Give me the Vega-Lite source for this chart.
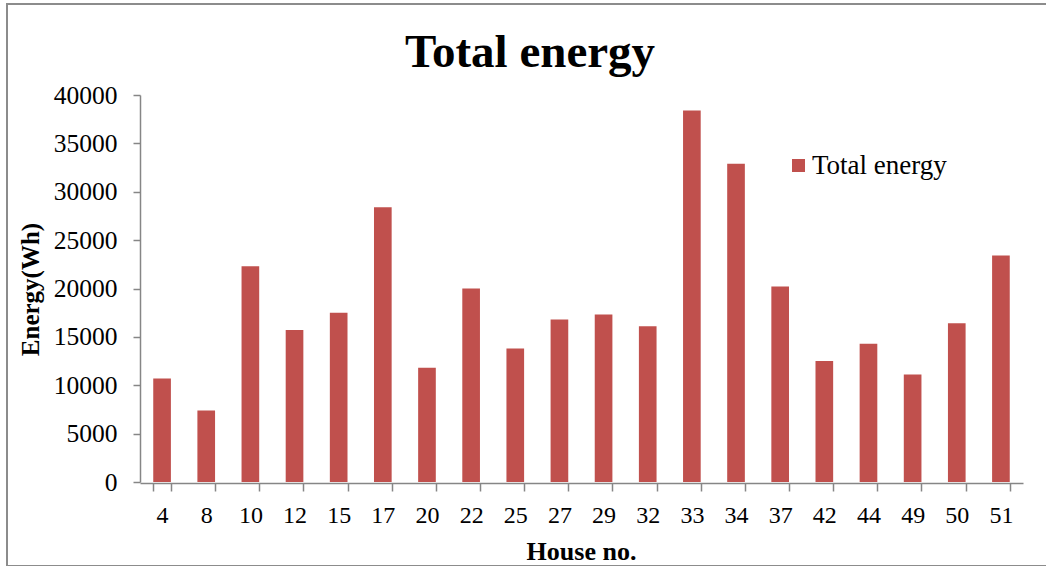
{
  "$schema": "https://vega.github.io/schema/vega-lite/v6.json",
  "autosize": "none",
  "width": 1046,
  "height": 562,
  "padding": {"left": 7, "top": 4, "right": 0, "bottom": 0},
  "background": "white",
  "title": {
    "text": "Total energy",
    "font": "Liberation Serif",
    "fontSize": 47,
    "fontWeight": "bold",
    "color": "black",
    "anchor": "middle",
    "frame": "group",
    "baseline": "alphabetic",
    "offset": -64,
    "dy": 46
  },
  "data": {
    "values": [
      {"house": "4", "energy": 10700},
      {"house": "8", "energy": 7400},
      {"house": "10", "energy": 22300},
      {"house": "12", "energy": 15700},
      {"house": "15", "energy": 17500},
      {"house": "17", "energy": 28400},
      {"house": "20", "energy": 11800},
      {"house": "22", "energy": 20000},
      {"house": "25", "energy": 13800},
      {"house": "27", "energy": 16800},
      {"house": "29", "energy": 17300},
      {"house": "32", "energy": 16100},
      {"house": "33", "energy": 38400},
      {"house": "34", "energy": 32900},
      {"house": "37", "energy": 20200},
      {"house": "42", "energy": 12500},
      {"house": "44", "energy": 14300},
      {"house": "49", "energy": 11100},
      {"house": "50", "energy": 16400},
      {"house": "51", "energy": 23400}
    ]
  },
  "mark": {"type": "bar"},
  "encoding": {
    "x": {
      "field": "house",
      "type": "ordinal",
      "sort": null,
      "scale": {"range": [133, 1016], "paddingInner": 0.6, "paddingOuter": 0.3},
      "axis": {
        "title": "House no.",
        "offset": -83,
        "labelAngle": 0,
        "tickBand": "extent",
        "tickSize": 8,
        "labelBaseline": "alphabetic",
        "labelPadding": 31,
        "titleX": 574,
        "titleY": 76,
        "titleBaseline": "alphabetic",
        "titleAnchor": "middle",
        "titleFontSize": 26
      }
    },
    "y": {
      "field": "energy",
      "type": "quantitative",
      "scale": {"domain": [0, 40000], "nice": false, "range": [478, 91]},
      "axis": {
        "title": "Energy(Wh)",
        "offset": -133,
        "values": [0, 5000, 10000, 15000, 20000, 25000, 30000, 35000, 40000],
        "format": "d",
        "tickSize": 7,
        "labelPadding": 16,
        "labelFontSize": 25.5,
        "grid": false,
        "titleX": -102,
        "titleY": 285,
        "titleBaseline": "alphabetic",
        "titleAngle": -90,
        "titleAnchor": "middle"
      }
    },
    "color": {
      "datum": "Total energy",
      "scale": {"range": ["#C0504D"]},
      "legend": {
        "orient": "none",
        "legendX": 778,
        "legendY": 148,
        "title": null,
        "symbolType": "square",
        "symbolSize": 169,
        "symbolStrokeWidth": 0,
        "labelFont": "Liberation Serif",
        "labelFontSize": 27,
        "labelColor": "black",
        "labelOffset": 0,
        "padding": 0
      }
    }
  },
  "config": {
    "view": {"stroke": "#8c8c8c", "strokeWidth": 2},
    "axis": {
      "domainColor": "#868686",
      "domainWidth": 1.5,
      "tickColor": "#868686",
      "tickWidth": 1.5,
      "labelFont": "Liberation Serif",
      "labelFontSize": 24,
      "labelColor": "black",
      "titleFont": "Liberation Serif",
      "titleFontSize": 25,
      "titleFontWeight": "bold",
      "titleColor": "black"
    }
  }
}
